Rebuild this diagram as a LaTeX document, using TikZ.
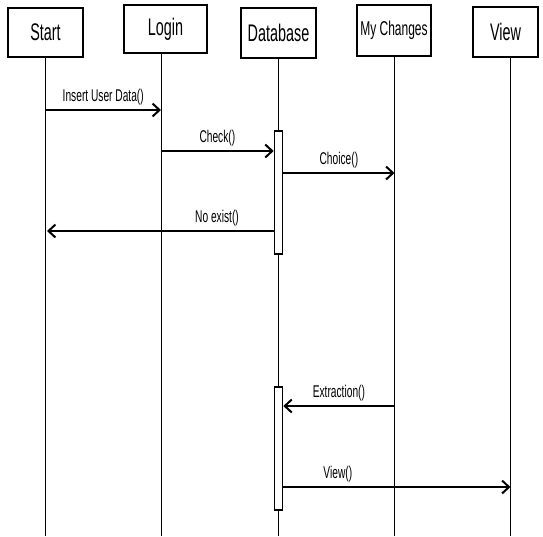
\documentclass[tikz,border=0pt]{standalone}
\usepackage{fontspec}
\setmainfont{Liberation Sans}[FakeStretch=0.6]
\usepackage{tikz}
\usetikzlibrary{arrows.meta, positioning, calc}

\begin{document}
\begin{tikzpicture}[x=1pt, y=-1pt,
        box/.style={draw, line width=1.6pt, minimum height=49pt, inner sep=0pt, font=\fontsize{24}{26}\selectfont},
        life/.style={line width=1pt},
        actbar/.style={draw, line width=1.6pt, fill=white, minimum width=8pt, minimum height=123pt, inner sep=0pt},
        msg/.style={line width=2pt, -{Straight Barb[length=7pt, width=13pt, line width=2pt]}},
        lbl/.style={above=2.5pt, inner sep=1pt, font=\fontsize{17}{19}\selectfont}]
        \useasboundingbox (0,0) rectangle (543,536);

        % Boxes
        \node[box, minimum width=75pt] (start) at (45.5,32.5) {Start};
        \node[box, minimum width=83pt, minimum height=48pt] (login) at (165.5,29) {Login};
        \node[box, minimum width=75pt, minimum height=50pt] (database) at (278.5,33) {Database};
        \node[box, minimum width=74pt, minimum height=51pt, font=\fontsize{20}{22}\selectfont] (changes) at (394,30.5) {My Changes};
        \node[box, minimum width=65pt, minimum height=50pt] (view) at (505.5,32) {View};

        % Lifelines
        \coordinate (start-top) at (start.south);
        \coordinate (login-top) at ($(login.south)+(-4.5,0)$);
        \coordinate (database-top) at (database.south);
        \coordinate (changes-top) at ($(changes.south)+(0.5,0)$);
        \coordinate (view-top) at ($(view.south)+(5,0)$);
        \foreach \n in {start,login,database,changes,view} {
            \draw[life] (\n-top) -- (\n-top |- 0,536);
        }

        % Activation bars
        \node[actbar] (act1) at (278.5,192.5) {};
        \node[actbar] (act2) at (278.5,448.5) {};

        % Messages
        \draw[msg] (start-top |- 0,110) -- node[lbl] {Insert User Data()} (login-top |- 0,110);
        \draw[msg] (login-top |- 0,151) -- node[lbl] {Check()} (act1.west |- 0,151);
        \draw[msg] (act1.east |- 0,173) -- node[lbl] {Choice()} (changes-top |- 0,173);
        \draw[msg] (act1.west |- 0,231) -- node[lbl, pos=0.25] {No exist()} ($(start-top |- 0,231)+(1.5,0)$);
        \draw[msg] (changes-top |- 0,406) -- node[lbl] {Extraction()} (act2.east |- 0,406);
        \draw[msg] (act2.east |- 0,487) -- node[lbl, pos=0.24] {View()} (view-top |- 0,487);
\end{tikzpicture}
\end{document}
